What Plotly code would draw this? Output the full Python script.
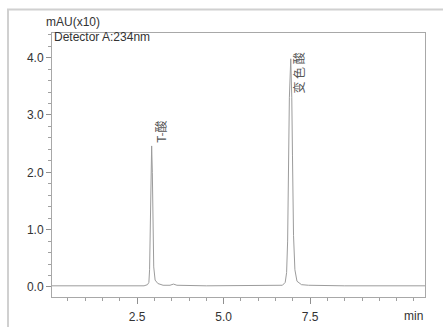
import plotly.graph_objects as go

# Retention time (min) and absorbance (mAU x10)
time_min = [0.04, 1.0, 2.0, 2.70, 2.80, 2.84, 2.86, 2.88, 2.90, 2.92, 2.94, 2.96, 2.98,
            3.02, 3.10, 3.25, 3.45, 3.55, 3.65, 4.5, 5.5, 6.5, 6.70, 6.78, 6.82, 6.85,
            6.87, 6.90, 6.94, 6.97, 6.99, 7.02, 7.06, 7.12, 7.25, 7.45, 8.5, 9.3, 9.5,
            9.7, 10.82]
absorbance = [0.02, 0.02, 0.02, 0.02, 0.04, 0.08, 0.3, 1.2, 2.1, 2.46, 2.0, 1.0, 0.35,
              0.12, 0.06, 0.03, 0.03, 0.05, 0.03, 0.02, 0.02, 0.02, 0.03, 0.08, 0.25, 0.8,
              2.0, 3.3, 3.98, 3.3, 2.3, 0.9, 0.3, 0.1, 0.04, 0.03, 0.02, 0.02, 0.015,
              0.02, 0.02]

peak_names = ["T-酸", "变 色 酸"]
peak_label_x = [3.19, 7.18]
peak_label_y = [2.48, 3.33]

x_tick_vals = [2.5, 5.0, 7.5]
x_tick_text = ["2.5", "5.0", "7.5"]
y_tick_vals = [0.0, 1.0, 2.0, 3.0, 4.0]
y_tick_text = ["0.0", "1.0", "2.0", "3.0", "4.0"]

FONT = "Liberation Sans, Arial, sans-serif"
TXT = "#333333"

fig = go.Figure()
fig.add_trace(go.Scatter(x=time_min, y=absorbance, mode="lines",
                         line=dict(color="#9c9c9c", width=1), hoverinfo="skip",
                         showlegend=False))

for name, lx, ly in zip(peak_names, peak_label_x, peak_label_y):
    fig.add_annotation(x=lx, y=ly, xref="x", yref="y", text=name, showarrow=False,
                       textangle=-90, xanchor="center", yanchor="bottom",
                       font=dict(family="Noto Sans CJK SC, " + FONT, size=12, color="#555555"))

fig.add_annotation(x=-0.021, y=1.04, xref="paper", yref="paper", text="mAU(x10)",
                   showarrow=False, xanchor="left", yanchor="middle",
                   font=dict(family=FONT, size=12, color=TXT))
fig.add_annotation(x=0.0, y=0.985, xref="paper", yref="paper", text="Detector A:234nm",
                   showarrow=False, xanchor="left", yanchor="middle",
                   font=dict(family=FONT, size=12, color=TXT))
fig.add_annotation(x=1.0, y=-0.072, xref="paper", yref="paper", text="min",
                   showarrow=False, xanchor="right", yanchor="middle",
                   font=dict(family=FONT, size=12, color=TXT))

# outer light frame
fig.add_shape(type="rect", xref="paper", yref="paper", x0=-0.118, x1=1.07, y0=-0.17, y1=1.089,
              line=dict(color="#d0d0d0", width=2), layer="above")

fig.update_layout(
    width=443, height=327, autosize=False,
    margin=dict(l=52, r=18, t=33, b=30),
    paper_bgcolor="white", plot_bgcolor="white",
    font=dict(family=FONT, size=12, color=TXT),
    xaxis=dict(range=[0.04, 10.82], tickvals=x_tick_vals, ticktext=x_tick_text,
               ticks="outside", ticklen=6, tickcolor="#909090", showline=True,
               linecolor="#a8a8a8", linewidth=1, mirror=True, showgrid=False,
               zeroline=False, ticklabelstandoff=3, automargin=False,
               minor=dict(tick0=0, dtick=0.5, ticks="outside", ticklen=3,
                          tickcolor="#a0a0a0", showgrid=False)),
    yaxis=dict(range=[-0.175, 4.43], tickvals=y_tick_vals, ticktext=y_tick_text,
               ticks="outside", ticklen=5, tickcolor="#909090", showline=True,
               linecolor="#a8a8a8", linewidth=1, mirror=True, showgrid=False,
               zeroline=False, automargin=False,
               minor=dict(tick0=0, dtick=0.2, ticks="outside", ticklen=3,
                          tickcolor="#a0a0a0", showgrid=False)),
)

fig.write_html("out.html", config={"displayModeBar": False, "responsive": False},
               post_script="document.body.style.margin='0';")
